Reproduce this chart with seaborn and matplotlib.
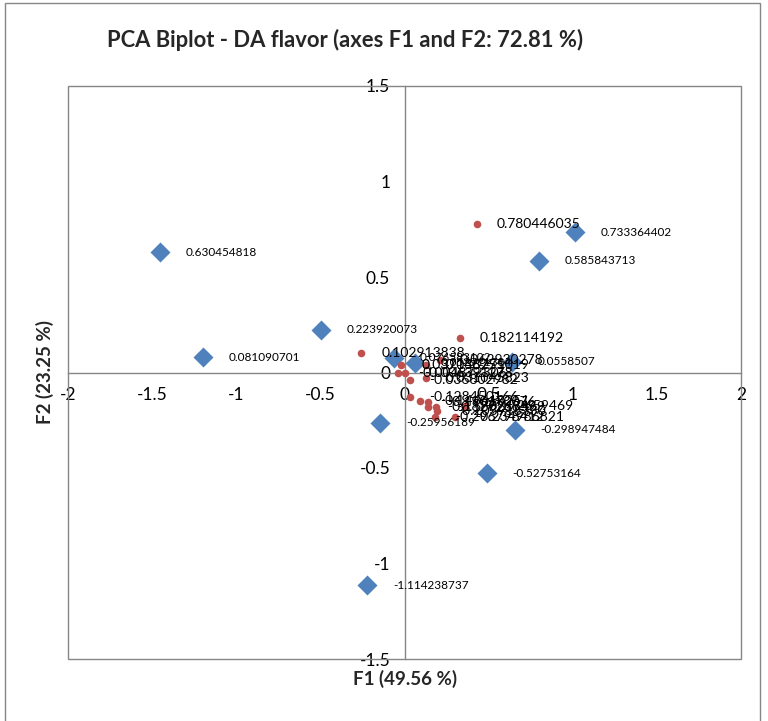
import matplotlib
matplotlib.use("Agg")
import matplotlib.pyplot as plt
from matplotlib.patches import Rectangle
import seaborn as sns
import pandas as pd

# ---------------- data ----------------
blue_x = [-1.452, -1.196, -0.494, -0.060, 0.060, 0.640, 1.012, 0.798, 0.655, 0.488, -0.145, -0.220]
blue_y = [0.630, 0.081, 0.224, 0.077, 0.052, 0.056, 0.733, 0.586, -0.299, -0.528, -0.262, -1.114]
blue_labels = ["0.630454818", "0.081090701", "0.223920073", "0.076583102", "0.052711384",
               "0.0558507", "0.733364402", "0.585843713", "-0.298947484", "-0.52753164",
               "-0.25956189", "-1.114238737"]

red_x = [0.430, 0.330, -0.256, -0.020, -0.040, 0.000, 0.030, 0.125, 0.125, 0.210,
         0.030, 0.090, 0.137, 0.137, 0.190, 0.196, 0.180, 0.300, 0.357]
red_y = [0.780, 0.182, 0.103, 0.037, -0.005, -0.005, -0.037, 0.037, -0.030, 0.063,
         -0.130, -0.147, -0.152, -0.183, -0.180, -0.204, -0.235, -0.235, -0.173]
red_labels = ["0.780446035", "0.182114192", "0.102913838", "0.037148775", "-0.004872306",
              "-0.006391278", "-0.036802982", "0.036251019", "0.031045823", "0.062930278",
              "-0.128450166", "-0.146618251", "-0.190170076", "-0.182726859", "-0.180217469",
              "-0.203918330", "-0.296798412", "-0.234986821", "-0.172659469"]

x_ticks = [-2, -1.5, -1, -0.5, 0, 0.5, 1, 1.5, 2]
y_ticks = [-1.5, -1, -0.5, 0, 0.5, 1, 1.5]

title = "PCA Biplot - DA flavor (axes F1 and F2: 72.81 %)"
x_title = "F1 (49.56 %)"
y_title = "F2 (23.25 %)"

# ---------------- style ----------------
sns.set_style("white")
plt.rcParams["font.family"] = ["Lato", "DejaVu Sans"]

BLUE = "#4F81BD"
RED = "#C0504D"
GREY = "#868686"

blue_df = pd.DataFrame({"F1": blue_x, "F2": blue_y, "label": blue_labels})
red_df = pd.DataFrame({"F1": red_x, "F2": red_y, "label": red_labels})

W, H = 768, 721
fig = plt.figure(figsize=(W / 100, H / 100), dpi=100)
ax = fig.add_axes([68 / W, 1 - 659 / H, (741 - 68) / W, (659 - 86) / H])

# chart area border
fig.patches.append(Rectangle((5 / W, -0.01), (760 - 5) / W, 1 - 3 / H + 0.01,
                             transform=fig.transFigure, fill=False, ec=GREY, lw=1))

sns.scatterplot(data=blue_df, x="F1", y="F2", marker="D", s=104, color=BLUE,
                linewidth=0, ax=ax, zorder=3, legend=False)
sns.scatterplot(data=red_df, x="F1", y="F2", marker="o", s=30, color=RED,
                linewidth=0, ax=ax, zorder=4, legend=False)

for x, y, lab in zip(blue_x, blue_y, blue_labels):
    ax.annotate(lab, (x, y), xytext=(18.5, 0), textcoords="offset points",
                va="center", ha="left", fontsize=8.5, color="black", zorder=6)
for x, y, lab in zip(red_x, red_y, red_labels):
    ax.annotate(lab, (x, y), xytext=(14.4, 0), textcoords="offset points",
                va="center", ha="left", fontsize=10, color="black", zorder=6)

ax.set_xlim(-2, 2)
ax.set_ylim(-1.5, 1.5)
ax.set_xticks(x_ticks)
ax.set_yticks(y_ticks)
ax.set_xticklabels([f"{t:g}" for t in x_ticks])
ax.set_yticklabels([f"{t:g}" for t in y_ticks])

for side in ["top", "right"]:
    ax.spines[side].set_visible(False)
for side in ["left", "bottom"]:
    ax.spines[side].set_position("zero")
    ax.spines[side].set_color(GREY)
    ax.spines[side].set_linewidth(1)
ax.add_patch(Rectangle((0, 0), 1, 1, transform=ax.transAxes, fill=False,
                       ec=GREY, lw=1, clip_on=False, zorder=1))

ax.tick_params(axis="both", direction="inout", length=8.6, width=1, color=GREY,
               labelsize=12.5, labelcolor="black", pad=6)
ax.set_xlabel("")
ax.set_ylabel("")

fig.text(345 / W, 1 - 40 / H, title, ha="center", va="center",
         fontsize=15.8, fontweight="bold")
fig.text(405 / W, 1 - 679 / H, x_title, ha="center", va="center",
         fontsize=13.5, fontweight="bold")
fig.text(45 / W, 1 - 372 / H, y_title, ha="center", va="center",
         fontsize=13.5, fontweight="bold", rotation=90)

fig.savefig("out.png", dpi=100)
